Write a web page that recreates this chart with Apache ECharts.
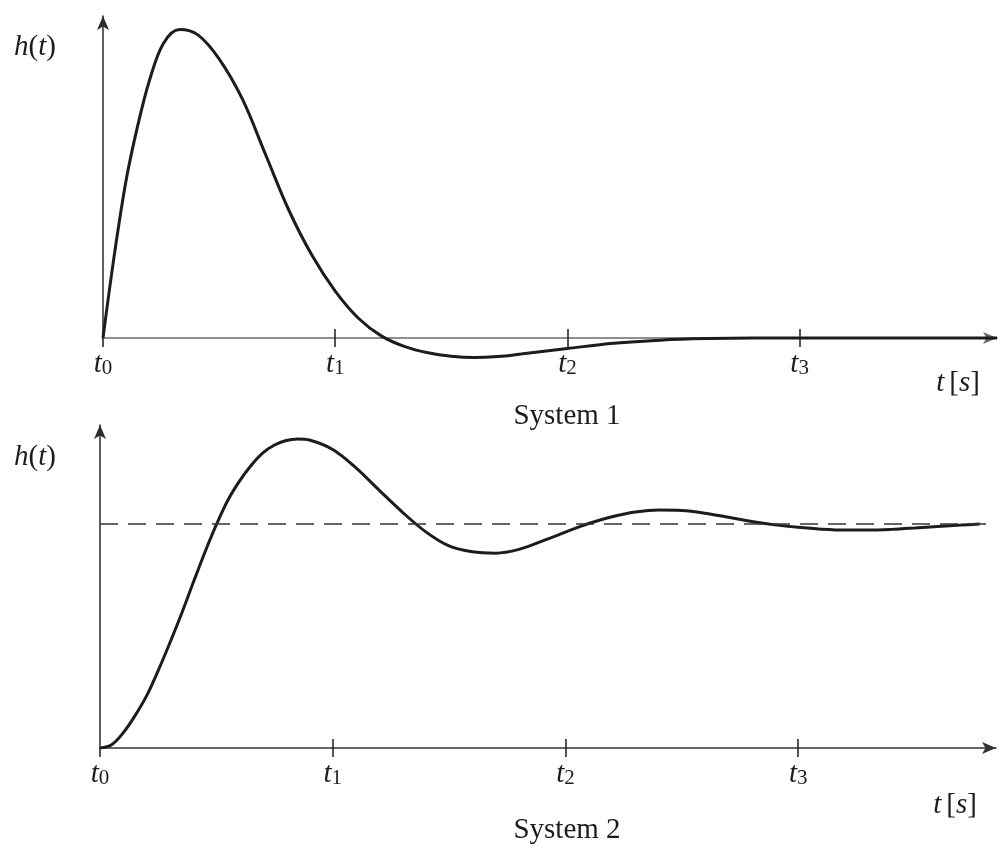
<!DOCTYPE html>
<html>
<head>
<meta charset="utf-8">
<title>System 1 / System 2</title>
<script src="https://cdn.jsdelivr.net/npm/echarts@6/dist/echarts.min.js"></script>
<style>
  html, body { margin: 0; padding: 0; background: #fff; }
  #chart { width: 1000px; height: 849px; }
</style>
</head>
<body>
<div id="chart"></div>
<script>
// time axis in units of t1 (t_k = k)
const tickValues = [0, 1, 2, 3];
const tickInner = [1, 2, 3];
const tMax = 3.85;

// System 1 (impulse response), peak scaled to 1
const sys1Time = [0, 0.05, 0.1, 0.15, 0.2, 0.26, 0.33, 0.41, 0.5, 0.6, 0.7, 0.8, 0.9, 1.0, 1.1, 1.2, 1.3, 1.4, 1.5, 1.6, 1.7, 1.8, 2.0, 2.2, 2.4, 2.6, 2.8, 3.85];
const sys1Value = [0, 0.276, 0.513, 0.69, 0.835, 0.955, 1.0, 0.982, 0.905, 0.775, 0.595, 0.415, 0.268, 0.152, 0.064, 0.006, -0.028, -0.048, -0.059, -0.063, -0.06, -0.052, -0.034, -0.017, -0.007, -0.002, 0, 0];

// System 2 (step response), steady state = 1
const sys2Time = [0, 0.05, 0.1, 0.15, 0.2, 0.25, 0.3, 0.35, 0.4, 0.45, 0.5, 0.55, 0.6, 0.65, 0.7, 0.75, 0.8, 0.85, 0.9, 1.0, 1.1, 1.2, 1.3, 1.4, 1.5, 1.6, 1.7, 1.8, 1.9, 2.0, 2.1, 2.2, 2.3, 2.4, 2.5, 2.6, 2.7, 2.8, 2.9, 3.0, 3.1, 3.2, 3.3, 3.4, 3.5, 3.6, 3.7, 3.78];
const sys2Value = [0, 0.015, 0.068, 0.143, 0.232, 0.345, 0.468, 0.597, 0.735, 0.87, 0.995, 1.105, 1.19, 1.26, 1.315, 1.35, 1.37, 1.377, 1.372, 1.33, 1.248, 1.148, 1.05, 0.963, 0.9, 0.874, 0.868, 0.885, 0.922, 0.962, 1.0, 1.03, 1.051, 1.06, 1.058, 1.046, 1.028, 1.009, 0.994, 0.983, 0.975, 0.971, 0.971, 0.974, 0.98, 0.987, 0.993, 0.998];
const sys2Final = 1;

const serif = 'Liberation Serif';
const ink = '#1c1c1c';

const textRich = {
  i: { fontFamily: serif, fontStyle: 'italic', fontWeight: 'normal', fontSize: 29, color: ink, lineHeight: 30 },
  r: { fontFamily: serif, fontWeight: 'normal', fontSize: 29, color: ink, lineHeight: 30 },
  s: { fontFamily: serif, fontWeight: 'normal', fontSize: 21, color: ink, lineHeight: 13, verticalAlign: 'bottom' }
};

function xAxes(gridIndex, lineColor) {
  return [{
    gridIndex: gridIndex,
    type: 'value',
    min: 0,
    max: tMax,
    interval: 1,
    splitLine: { show: false },
    axisLine: { lineStyle: { color: lineColor, width: 1.5 }, symbol: ['none', 'arrow'], symbolSize: [9, 14] },
    axisTick: { length: 9, customValues: tickValues, lineStyle: { color: ink, width: 1.5 } },
    axisLabel: {
      customValues: tickValues,
      margin: 11,
      formatter: v => '{i|t}{s|' + Math.round(v) + '}',
      rich: textRich
    }
  }, {
    gridIndex: gridIndex,
    type: 'value',
    position: 'bottom',
    min: 0,
    max: tMax,
    interval: 1,
    splitLine: { show: false },
    axisLine: { show: false },
    axisTick: { inside: true, length: 9, customValues: tickInner, lineStyle: { color: ink, width: 1.5 } },
    axisLabel: { show: false }
  }];
}

function yAxis(gridIndex, max) {
  return {
    gridIndex: gridIndex,
    type: 'value',
    min: 0,
    max: max,
    splitLine: { show: false },
    axisTick: { show: false },
    axisLabel: { show: false },
    axisLine: { lineStyle: { color: '#2a2a2a', width: 1.5 }, symbol: ['none', 'arrow'], symbolSize: [9, 14] }
  };
}

function label(text, x, y) {
  return {
    text: text,
    left: x,
    top: y,
    padding: 0,
    textAlign: 'center',
    textVerticalAlign: 'middle',
    textStyle: { fontWeight: 'normal', rich: textRich }
  };
}

let option = {
  backgroundColor: '#fff',
  animation: false,
  title: [
    label('{i|h}{r|(}{i|t}{r|)}', 35, 47),
    label('{i|t} {r|[}{i|s}{r|]}', 958, 383),
    label('{r|System 1}', 567, 416),
    label('{i|h}{r|(}{i|t}{r|)}', 35, 457),
    label('{i|t} {r|[}{i|s}{r|]}', 955, 805),
    label('{r|System 2}', 567, 830)
  ],
  grid: [
    { left: 103, top: 16, width: 894, height: 322 },
    { left: 100, top: 425, width: 896, height: 323 }
  ],
  xAxis: [...xAxes(0, '#6a6a6a'), ...xAxes(1, '#333')],
  yAxis: [yAxis(0, 1.044), yAxis(1, 1.439)],
  series: [{
    name: 'System 1',
    type: 'line',
    xAxisIndex: 0,
    yAxisIndex: 0,
    clip: false,
    smooth: 0.35,
    showSymbol: false,
    lineStyle: { color: ink, width: 3 },
    data: sys1Time.map((t, i) => [t, sys1Value[i]])
  }, {
    name: 'System 2',
    type: 'line',
    xAxisIndex: 2,
    yAxisIndex: 1,
    smooth: 0.35,
    showSymbol: false,
    lineStyle: { color: ink, width: 3 },
    data: sys2Time.map((t, i) => [t, sys2Value[i]]),
    markLine: {
      silent: true,
      symbol: 'none',
      label: { show: false },
      lineStyle: { color: '#333', width: 1.5, type: [18, 10] },
      data: [{ yAxis: sys2Final }]
    }
  }]
};

let myChart = echarts.init(document.getElementById('chart'));
myChart.setOption(option);
</script>
</body>
</html>
